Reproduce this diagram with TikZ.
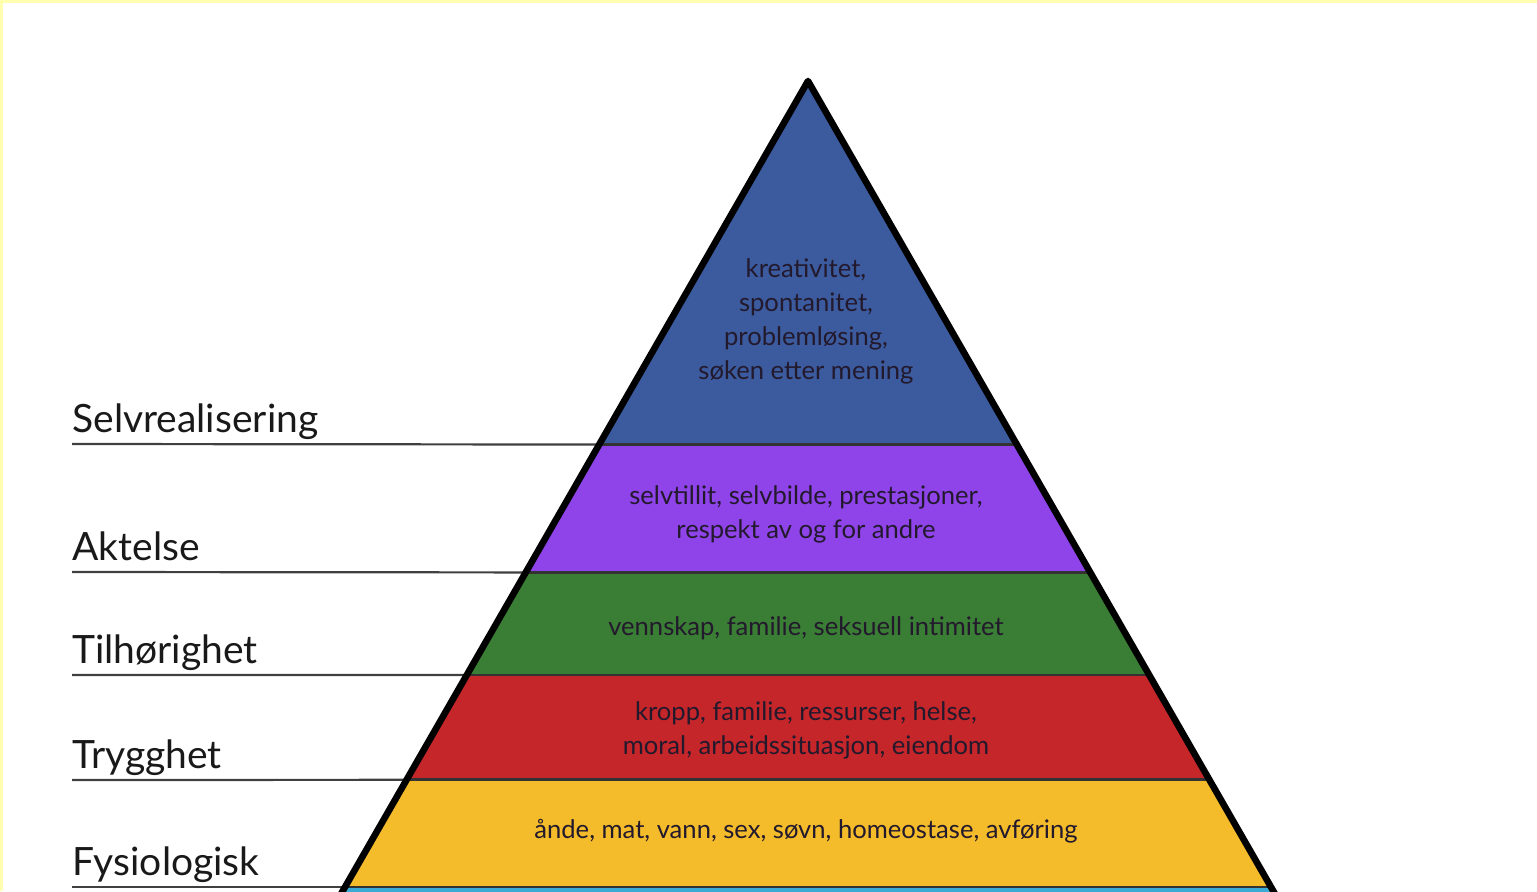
\documentclass[tikz,border=0pt]{standalone}
\usepackage{fontspec}
\setmainfont{Lato}
\usetikzlibrary{positioning}
\usetikzlibrary{calc}
\definecolor{selvblue}{RGB}{59,91,158}
\definecolor{aktpurple}{RGB}{142,68,232}
\definecolor{tilgreen}{RGB}{58,125,52}
\definecolor{trygred}{RGB}{196,38,42}
\definecolor{fysyellow}{RGB}{244,188,42}
\definecolor{basecyan}{RGB}{60,170,215}
\definecolor{framey}{RGB}{255,255,175}
\definecolor{inktext}{RGB}{35,25,45}

\begin{document}
\begin{tikzpicture}[x=0.5pt, y=-0.5pt,
    outline/.style={line width=3.3pt, line join=round, line cap=butt},
    divider/.style={line width=1.4pt, draw=black!80},
    labelline/.style={line width=1.1pt, draw=black!75},
    levellabel/.style={anchor=base west, inner sep=0pt, font=\fontsize{19.5}{22}\selectfont, text=black!90},
    needs/.style={align=center, inner sep=0pt, text=inktext,
        font=\fontsize{12.8}{17}\selectfont} ]
    \useasboundingbox (0,0) rectangle (1537,891);
    \clip (0,0) rectangle (1537,891);
    \fill[framey] (0,0) rectangle (1537,3);
    \fill[framey] (0,0) rectangle (3,891);
    % the pyramid
    \coordinate (apex) at (808,81);
    \coordinate (bl) at (345,887);
    \coordinate (br) at (1271,887);
    \fill[basecyan] (bl) -- ($(apex)!1.03!(bl)$) -- ($(apex)!1.03!(br)$) -- (br) -- cycle;
    \foreach \ta/\tb/\col in {0/0.451/selvblue, 0.451/0.6097/aktpurple,
        0.6097/0.737/tilgreen, 0.737/0.867/trygred, 0.867/1/fysyellow}
        \fill[\col] ($(apex)!\ta!(bl)$) -- ($(apex)!\tb!(bl)$) -- ($(apex)!\tb!(br)$) -- ($(apex)!\ta!(br)$) -- cycle;
    % levels, divider lines and labels
    \foreach \t/\y/\name [count=\i] in {0.451/444/Selvrealisering, 0.6097/572/Aktelse,
        0.737/675/Tilhørighet, 0.867/780/Trygghet, 1/887/Fysiologisk} {
        \coordinate (l\i) at ($(apex)!\t!(bl)$);
        \coordinate (r\i) at ($(apex)!\t!(br)$);
        \coordinate (s\i) at (72,\y);
        \draw[divider] (l\i) -- (r\i);
        \draw[labelline] (s\i) -- (l\i);
        \node[levellabel] (lab\i) at ($(s\i)+(0,-12)$) {\name};
    }
    \draw[outline] ($(apex)!1.03!(bl)$) -- (apex) -- ($(apex)!1.03!(br)$);
    % contents of each level
    \node[needs] (selv) at (806,321) {kreativitet,\\ spontanitet,\\ problemløsing,\\ søken etter mening};
    \node[needs] (akt) at (806,514) {selvtillit, selvbilde, prestasjoner,\\ respekt av og for andre};
    \node[needs] (til) at (806,628) {vennskap, familie, seksuell intimitet};
    \node[needs] (tryg) at (806,730) {kropp, familie, ressurser, helse,\\ moral, arbeidssituasjon, eiendom};
    \node[needs] (fys) at (806,831) {ånde, mat, vann, sex, søvn, homeostase, avføring};
\end{tikzpicture}
\end{document}
